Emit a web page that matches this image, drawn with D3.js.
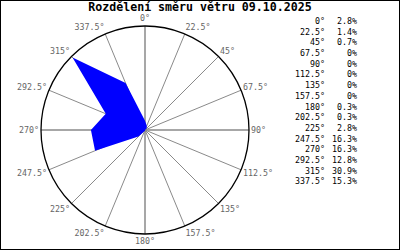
<!DOCTYPE html>
<html>
<head>
<meta charset="utf-8">
<script src="https://cdn.jsdelivr.net/npm/d3@7"></script>
<style>
  body { margin: 0; background: #fff; }
  svg { display: block; }
</style>
</head>
<body>
<svg id="chart"></svg>
<script>
// wind direction data
var directions = [0, 22.5, 45, 67.5, 90, 112.5, 135, 157.5, 180, 202.5, 225, 247.5, 270, 292.5, 315, 337.5];
var shares = [2.8, 1.4, 0.7, 0, 0, 0, 0, 0, 0.3, 0.3, 2.8, 16.3, 16.3, 12.8, 30.9, 15.3];
var dirLabels = ["0°", "22.5°", "45°", "67.5°", "90°", "112.5°", "135°", "157.5°", "180°", "202.5°", "225°", "247.5°", "270°", "292.5°", "315°", "337.5°"];
var title = "Rozdělení směru větru 09.10.2025";

var W = 400, H = 250;
var cx = 145, cy = 130, R = 104;
var mono = "'DejaVu Sans Mono', 'Liberation Mono', monospace";

var svg = d3.select("#chart").attr("width", W).attr("height", H);

svg.append("rect")
  .attr("x", 0.5).attr("y", 0.5)
  .attr("width", W - 1).attr("height", H - 1)
  .attr("fill", "#fff").attr("stroke", "#000");

svg.append("text")
  .attr("x", 200).attr("y", 11)
  .attr("text-anchor", "middle")
  .style("font-family", mono)
  .style("font-size", "11.6px")
  .style("font-weight", "bold")
  .text(title);

var ang = d3.scaleLinear().domain([0, 360]).range([0, 2 * Math.PI]);
var rad = d3.scaleLinear().domain([0, d3.max(shares)]).range([0, R - 1.5]);

var g = svg.append("g").attr("transform", "translate(" + cx + "," + cy + ")");

// spokes
g.selectAll("line.spoke").data(directions).enter().append("line")
  .attr("class", "spoke")
  .attr("x1", 0).attr("y1", 0)
  .attr("x2", function(d) { return R * Math.sin(ang(d)); })
  .attr("y2", function(d) { return -R * Math.cos(ang(d)); })
  .attr("stroke", "#8a8a8a")
  .attr("stroke-width", function(d) { return d % 90 === 0 ? 1.5 : 1; });

// data polygon
var radial = d3.lineRadial()
  .angle(function(d, i) { return ang(directions[i]); })
  .radius(function(d) { return rad(d); })
  .curve(d3.curveLinearClosed);

g.append("path")
  .attr("d", radial(shares))
  .attr("fill", "#0000ff")
  .attr("stroke", "none");

// outer circle
g.append("circle")
  .attr("r", R)
  .attr("fill", "none")
  .attr("stroke", "#000")
  .attr("stroke-width", 1.3);

// direction labels
g.selectAll("text.dir").data(directions).enter().append("text")
  .attr("class", "dir")
  .attr("x", function(d) { return (R + 2) * Math.sin(ang(d)); })
  .attr("y", function(d) { return -(R + 2) * Math.cos(ang(d)) - 5.5 * Math.cos(ang(d)); })
  .attr("dy", "0.35em")
  .attr("text-anchor", function(d) {
    var s = Math.sin(ang(d));
    return s > 0.01 ? "start" : (s < -0.01 ? "end" : "middle");
  })
  .style("font-family", mono)
  .style("font-size", "8.3px")
  .attr("fill", "#666")
  .text(function(d, i) { return dirLabels[i]; });

// legend table
var row = d3.scaleLinear().domain([0, 1]).range([21, 31.7]);
var legend = svg.append("g");
legend.selectAll("text.deg").data(dirLabels).enter().append("text")
  .attr("x", 325)
  .attr("y", function(d, i) { return row(i); })
  .attr("dy", "0.35em")
  .attr("text-anchor", "end")
  .style("font-family", mono)
  .style("font-size", "8.3px")
  .text(function(d) { return d; });
legend.selectAll("text.pct").data(shares).enter().append("text")
  .attr("x", 357)
  .attr("y", function(d, i) { return row(i); })
  .attr("dy", "0.35em")
  .attr("text-anchor", "end")
  .style("font-family", mono)
  .style("font-size", "8.3px")
  .text(function(d) { return d3.format("")(d) + "%"; });
</script>
</body>
</html>
